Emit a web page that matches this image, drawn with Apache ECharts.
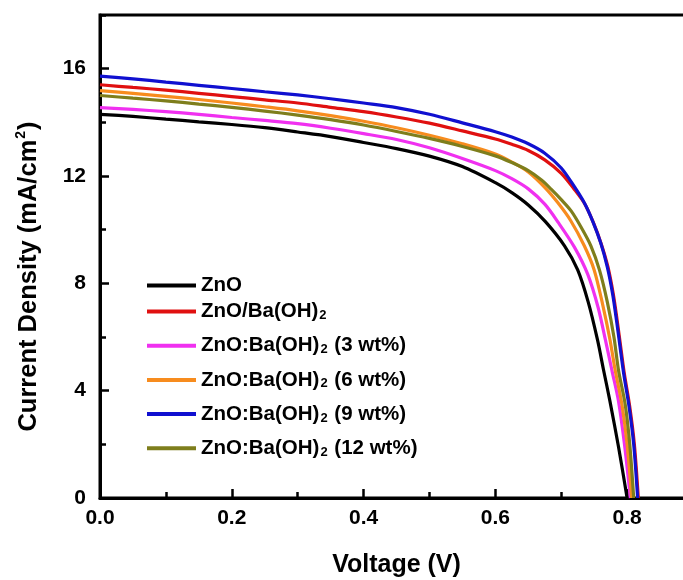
<!DOCTYPE html>
<html>
<head>
<meta charset="utf-8">
<script src="https://cdn.jsdelivr.net/npm/echarts@6/dist/echarts.min.js"></script>
<style>html,body{margin:0;padding:0;background:#fff}#c{width:683px;height:580px}</style>
</head>
<body>
<div id="c"></div>
<script>
var seriesNames = ['ZnO', 'ZnO/Ba(OH)2', 'ZnO:Ba(OH)2 (3 wt%)', 'ZnO:Ba(OH)2 (6 wt%)', 'ZnO:Ba(OH)2 (9 wt%)', 'ZnO:Ba(OH)2 (12 wt%)'];
var seriesColors = ['#000000', '#e01010', '#f030f0', '#f78c1e', '#1010d0', '#7e7e1c'];
var xTicks = [0, 0.2, 0.4, 0.6, 0.8];
var yTicks = [0, 4, 8, 12, 16];

var znO = [[0,14.3],[0.05,14.22],[0.1,14.12],[0.15,14.02],[0.2,13.92],[0.25,13.8],[0.3,13.64],[0.35,13.47],[0.4,13.25],[0.45,13.02],[0.5,12.74],[0.55,12.35],[0.6,11.75],[0.625,11.38],[0.65,10.92],[0.676,10.3],[0.705,9.4],[0.725,8.5],[0.741,7.3],[0.755,5.9],[0.764,4.8],[0.774,3.6],[0.787,1.9],[0.8,0]];
var znOBa = [[0,15.4],[0.05,15.3],[0.1,15.2],[0.15,15.08],[0.2,14.96],[0.25,14.84],[0.3,14.72],[0.35,14.56],[0.4,14.4],[0.45,14.2],[0.5,13.97],[0.55,13.68],[0.6,13.38],[0.625,13.18],[0.65,12.95],[0.675,12.6],[0.7,12.1],[0.72,11.5],[0.736,10.95],[0.749,10.25],[0.761,9.45],[0.771,8.6],[0.779,7.6],[0.785,6.6],[0.791,5.5],[0.796,4.6],[0.804,3.4],[0.811,2.0],[0.817,0]];
var dop3 = [[0,14.55],[0.05,14.48],[0.1,14.4],[0.15,14.3],[0.2,14.18],[0.25,14.07],[0.3,13.95],[0.35,13.78],[0.4,13.58],[0.45,13.36],[0.5,13.05],[0.55,12.65],[0.6,12.2],[0.625,11.9],[0.65,11.52],[0.675,10.95],[0.696,10.25],[0.72,9.35],[0.74,8.35],[0.756,7.1],[0.767,5.9],[0.777,4.75],[0.787,3.6],[0.796,2.0],[0.805,0]];
var dop6 = [[0,15.18],[0.05,15.08],[0.1,14.97],[0.15,14.85],[0.2,14.72],[0.25,14.58],[0.3,14.43],[0.35,14.25],[0.4,14.04],[0.45,13.8],[0.5,13.52],[0.55,13.2],[0.6,12.82],[0.625,12.52],[0.65,12.15],[0.676,11.55],[0.695,11.0],[0.714,10.35],[0.735,9.4],[0.75,8.5],[0.763,7.2],[0.774,5.9],[0.782,4.75],[0.792,3.5],[0.8,2.0],[0.807,0]];
var dop9 = [[0,15.72],[0.05,15.62],[0.1,15.5],[0.15,15.38],[0.2,15.26],[0.25,15.14],[0.3,15.02],[0.35,14.88],[0.4,14.72],[0.45,14.55],[0.5,14.3],[0.55,13.98],[0.6,13.65],[0.625,13.45],[0.65,13.2],[0.675,12.85],[0.7,12.3],[0.72,11.6],[0.735,11.0],[0.748,10.3],[0.76,9.5],[0.77,8.6],[0.778,7.6],[0.784,6.6],[0.79,5.5],[0.795,4.6],[0.803,3.4],[0.81,2.0],[0.816,0]];
var dop12 = [[0,15.0],[0.05,14.9],[0.1,14.8],[0.15,14.68],[0.2,14.56],[0.25,14.42],[0.3,14.27],[0.35,14.1],[0.4,13.9],[0.45,13.66],[0.5,13.4],[0.55,13.1],[0.6,12.75],[0.625,12.5],[0.65,12.2],[0.67,11.85],[0.685,11.5],[0.7,11.12],[0.715,10.7],[0.73,10.1],[0.745,9.4],[0.758,8.5],[0.77,7.3],[0.78,6.0],[0.787,4.75],[0.797,3.5],[0.804,2.0],[0.81,0]];
var seriesData = [znO, znOBa, dop3, dop6, dop9, dop12];

var FONT = '"Liberation Sans", Arial, sans-serif';
var chart = echarts.init(document.getElementById('c'), null, {renderer: 'canvas'});

function fmtName(name) {
  var i = name.indexOf('(OH)2');
  if (i < 0) return '{z|' + name + '}';
  return '{n|' + name.slice(0, i + 4) + '}{s|2}' + (name.length > i + 5 ? '{n|' + name.slice(i + 5) + '}' : '');
}
var legendRich = {
  z: {fontFamily: FONT, fontWeight: 'bold', fontSize: 20.5, color: '#000', lineHeight: 21},
  n: {fontFamily: FONT, fontWeight: 'bold', fontSize: 20.5, color: '#000', lineHeight: 21, verticalAlign: 'top'},
  s: {fontFamily: FONT, fontWeight: 'bold', fontSize: 13, color: '#000', verticalAlign: 'bottom', lineHeight: 12, padding: [16, 1, 0, 1]}
};
function makeLegend(names, top, gap) {
  return {
    orient: 'vertical', left: 147, top: top, itemGap: gap, padding: 0,
    icon: 'rect', itemWidth: 49, itemHeight: 4,
    data: names, formatter: fmtName,
    textStyle: {rich: legendRich}
  };
}

var option = {
  animation: false,
  backgroundColor: '#fff',
  grid: {left: 100, right: -10, top: 15, bottom: 82, outerBoundsMode: 'none', containLabel: false,
    show: true, borderColor: '#000', borderWidth: 3, backgroundColor: 'transparent'},
  legend: [makeLegend(seriesNames.slice(0, 1), 275, 6), makeLegend(seriesNames.slice(1), 293, 5.2)],
  xAxis: [{
    type: 'value', min: 0, max: 0.9, interval: 0.2, position: 'bottom',
    name: 'Voltage (V)', nameLocation: 'middle', nameGap: 55,
    nameTextStyle: {fontFamily: FONT, fontWeight: 'bold', fontSize: 25, color: '#000'},
    axisLine: {show: true, lineStyle: {color: '#000', width: 3}},
    axisTick: {show: true, inside: true, length: 9, lineStyle: {color: '#000', width: 2.5}},
    axisLabel: {show: true, showMaxLabel: false, margin: 10, fontFamily: FONT, fontWeight: 'bold', fontSize: 21, color: '#000',
      formatter: function (v) { return xTicks.indexOf(Math.round(v * 10) / 10) >= 0 ? v.toFixed(1) : ''; }},
    splitLine: {show: false}
  }, {
    type: 'value', min: 0, max: 0.9, interval: 0.1, position: 'bottom',
    axisLine: {show: false}, axisLabel: {show: false}, splitLine: {show: false},
    axisTick: {show: true, inside: true, length: 6, lineStyle: {color: '#000', width: 2.5}}
  }],
  yAxis: [{
    type: 'value', min: 0, max: 18, interval: 4, position: 'left',
    name: '{a|Current Density (mA/cm}{p|2}{a|)}', nameLocation: 'middle', nameGap: 58, nameRotate: 90,
    nameTextStyle: {padding: [0, 40, 0, 0], rich: {
      a: {fontFamily: FONT, fontWeight: 'bold', fontSize: 25.5, color: '#000', verticalAlign: 'bottom', lineHeight: 28},
      p: {fontFamily: FONT, fontWeight: 'bold', fontSize: 14, color: '#000', verticalAlign: 'top', lineHeight: 28, padding: [0, 1, 0, 1]}
    }},
    axisLine: {show: true, lineStyle: {color: '#000', width: 3}},
    axisTick: {show: true, inside: true, length: 9, lineStyle: {color: '#000', width: 2.5}},
    axisLabel: {show: true, showMaxLabel: false, margin: 14, fontFamily: FONT, fontWeight: 'bold', fontSize: 21, color: '#000',
      formatter: function (v) { return yTicks.indexOf(v) >= 0 ? String(v) : ''; }},
    splitLine: {show: false}
  }, {
    type: 'value', min: 0, max: 18, interval: 2, position: 'left',
    axisLine: {show: false}, axisLabel: {show: false}, splitLine: {show: false},
    axisTick: {show: true, inside: true, length: 6, lineStyle: {color: '#000', width: 2.5}}
  }],
  series: seriesNames.map(function (n, i) {
    return {
      name: n, type: 'line', xAxisIndex: 0, yAxisIndex: 0,
      data: seriesData[i], showSymbol: false, symbol: 'none', smooth: 0.3,
      lineStyle: {color: seriesColors[i], width: 3.2},
      itemStyle: {color: seriesColors[i]}
    };
  })
};
chart.setOption(option);
</script>
</body>
</html>
